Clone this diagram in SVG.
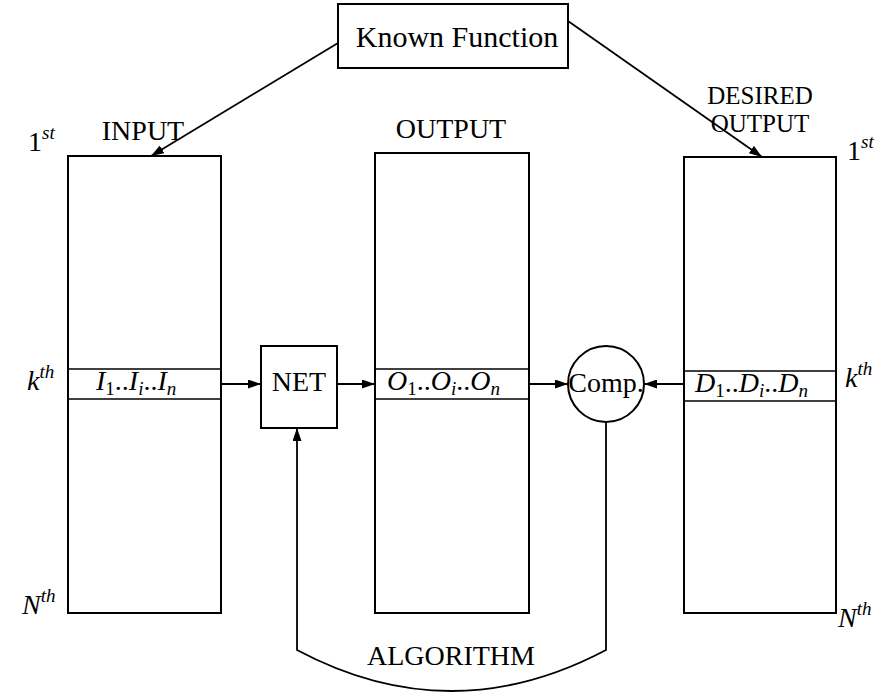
<svg xmlns="http://www.w3.org/2000/svg" width="887" height="693" viewBox="0 0 887 693" font-family="'Liberation Serif', 'DejaVu Serif', serif">
  <style>
    .box { fill: none; stroke: #000; stroke-width: 2; }
    .row { fill: none; stroke: #000; stroke-width: 1.6; }
    .edge { fill: none; stroke: #000; stroke-width: 1.8; }
    svg text, svg tspan { font-family: "Liberation Serif", "DejaVu Serif", serif; fill: #000; }
    .lbl { font-size: 28px; text-anchor: middle; }
    .big { font-size: 30px; }
    .two { font-size: 25px; }
    .it { font-style: italic; }
    .sub { font-size: 19px; }
  </style>
  <defs>
    <marker id="arrow" viewBox="0 0 13 9" refX="13" refY="4.5" markerWidth="13" markerHeight="9" markerUnits="userSpaceOnUse" orient="auto">
      <path d="M0,0 L13,4.5 L0,9 Z" fill="#000"/>
    </marker>
  </defs>

  <!-- known function generator -->
  <g id="known-function">
    <rect class="box" x="338" y="4" width="230" height="64"/>
    <text class="lbl big" x="457" y="47">Known Function</text>
  </g>

  <!-- input table -->
  <g id="input">
    <rect class="box" x="68" y="156" width="153" height="457"/>
    <line class="row" x1="68" y1="369" x2="221" y2="369"/>
    <line class="row" x1="68" y1="399" x2="221" y2="399"/>
    <text class="lbl" x="143" y="140">INPUT</text>
    <text x="96" y="390" font-size="28"><tspan class="it">I</tspan><tspan class="sub" dy="5">1</tspan><tspan dy="-5">..</tspan><tspan class="it">I</tspan><tspan class="sub it" dy="5">i</tspan><tspan dy="-5">..</tspan><tspan class="it">I</tspan><tspan class="sub it" dy="5">n</tspan></text>
  </g>

  <!-- network -->
  <g id="net">
    <rect class="box" x="261" y="346" width="76" height="82"/>
    <text class="lbl" x="299" y="391">NET</text>
  </g>

  <!-- output table -->
  <g id="output">
    <rect class="box" x="375" y="153" width="154" height="460"/>
    <line class="row" x1="375" y1="369" x2="529" y2="369"/>
    <line class="row" x1="375" y1="399" x2="529" y2="399"/>
    <text class="lbl" x="451" y="138">OUTPUT</text>
    <text x="387" y="390" font-size="28"><tspan class="it">O</tspan><tspan class="sub" dy="5">1</tspan><tspan dy="-5">..</tspan><tspan class="it">O</tspan><tspan class="sub it" dy="5">i</tspan><tspan dy="-5">..</tspan><tspan class="it">O</tspan><tspan class="sub it" dy="5">n</tspan></text>
  </g>

  <!-- comparator -->
  <g id="comp">
    <circle class="box" cx="606" cy="384" r="38"/>
    <text class="lbl" x="606" y="392">Comp.</text>
  </g>

  <!-- desired output table -->
  <g id="desired-output">
    <rect class="box" x="684" y="157" width="152" height="456"/>
    <line class="row" x1="684" y1="371" x2="836" y2="371"/>
    <line class="row" x1="684" y1="401" x2="836" y2="401"/>
    <text class="lbl two" x="760" y="104">DESIRED</text>
    <text class="lbl two" x="760" y="132">OUTPUT</text>
    <text x="695" y="392" font-size="28"><tspan class="it">D</tspan><tspan class="sub" dy="5">1</tspan><tspan dy="-5">..</tspan><tspan class="it">D</tspan><tspan class="sub it" dy="5">i</tspan><tspan dy="-5">..</tspan><tspan class="it">D</tspan><tspan class="sub it" dy="5">n</tspan></text>
  </g>

  <!-- row index labels -->
  <g id="row-labels" font-size="28">
    <text x="28" y="151">1<tspan class="sub it" dy="-12">st</tspan></text>
    <text x="27" y="390" class="it">k<tspan class="sub" dy="-12">th</tspan></text>
    <text x="22" y="614" class="it">N<tspan class="sub" dy="-12">th</tspan></text>
    <text x="847" y="160">1<tspan class="sub it" dy="-12">st</tspan></text>
    <text x="845" y="387" class="it">k<tspan class="sub" dy="-12">th</tspan></text>
    <text x="838" y="627" class="it">N<tspan class="sub" dy="-12">th</tspan></text>
  </g>

  <!-- connectors -->
  <g id="connectors">
    <line class="edge" x1="338" y1="43" x2="151" y2="156" marker-end="url(#arrow)"/>
    <line class="edge" x1="568" y1="21" x2="762" y2="157" marker-end="url(#arrow)"/>
    <line class="edge" x1="221" y1="384" x2="261" y2="384" marker-end="url(#arrow)"/>
    <line class="edge" x1="337" y1="384" x2="375" y2="384" marker-end="url(#arrow)"/>
    <line class="edge" x1="529" y1="384" x2="568" y2="384" marker-end="url(#arrow)"/>
    <line class="edge" x1="684" y1="384" x2="644" y2="384" marker-end="url(#arrow)"/>
    <path class="edge" d="M606,422 L606,650 Q451,732 297,650 L297,428" marker-end="url(#arrow)"/>
    <text class="lbl" x="451" y="665">ALGORITHM</text>
  </g>
</svg>
